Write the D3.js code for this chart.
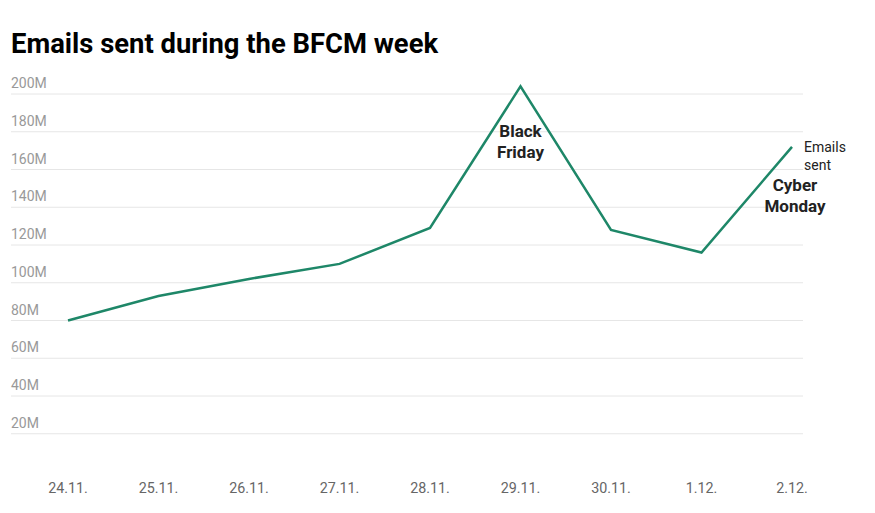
<!DOCTYPE html>
<html>
<head>
<meta charset="utf-8">
<script src="https://cdn.jsdelivr.net/npm/d3@7"></script>
<style>
  body { margin: 0; background: #fff; font-family: Roboto, sans-serif; }
</style>
</head>
<body>
<div id="chart-container"></div>
<script>
// Data
const days = ["24.11.", "25.11.", "26.11.", "27.11.", "28.11.", "29.11.", "30.11.", "1.12.", "2.12."];
const emailsSent = [80, 93, 102, 110, 129, 204, 128, 116, 172]; // millions
const yTicks = [20, 40, 60, 80, 100, 120, 140, 160, 180, 200];

const width = 875;
const height = 513;

const x = d3.scalePoint()
    .domain(days)
    .range([68, 792]);

const y = d3.scaleLinear()
    .domain([0, 200])
    .range([471.5, 94]);

const svg = d3.create("svg")
    .attr("width", width)
    .attr("height", height)
    .style("font-family", "Roboto, sans-serif");

// Title
svg.append("text")
    .attr("x", 11)
    .attr("y", 53)
    .attr("font-size", 27.4)
    .attr("font-weight", 700)
    .attr("fill", "#000")
    .text("Emails sent during the BFCM week");

// Gridlines and y labels
const grid = svg.append("g");
grid.selectAll("line")
  .data(yTicks)
  .join("line")
    .attr("x1", 11)
    .attr("x2", 803)
    .attr("y1", d => y(d))
    .attr("y2", d => y(d))
    .attr("stroke", "#e6e6e6")
    .attr("stroke-width", 1);
grid.selectAll("text")
  .data(yTicks)
  .join("text")
    .attr("x", 11)
    .attr("y", d => y(d) - 6)
    .attr("font-size", 14)
    .attr("fill", "#999")
    .text(d => d + "M");

// X labels
svg.append("g")
  .selectAll("text")
  .data(days)
  .join("text")
    .attr("x", d => x(d))
    .attr("y", 493)
    .attr("text-anchor", "middle")
    .attr("font-size", 14.3)
    .attr("fill", "#666")
    .text(d => d);

// Line
const line = d3.line()
    .x((d, i) => x(days[i]))
    .y(d => y(d));

svg.append("path")
    .datum(emailsSent)
    .attr("d", line)
    .attr("fill", "none")
    .attr("stroke", "#1e8768")
    .attr("stroke-width", 2.5)
    .attr("stroke-linejoin", "miter");

// Series label
const last = days.length - 1;
svg.append("text")
    .attr("x", x(days[last]) + 12)
    .attr("y", 152)
    .attr("font-size", 14)
    .attr("fill", "#222")
  .selectAll("tspan")
  .data(["Emails", "sent"])
  .join("tspan")
    .attr("x", x(days[last]) + 12)
    .attr("dy", (d, i) => i ? 17.5 : 0)
    .text(d => d);

// Annotations
const annotations = [
  { day: "29.11.", lines: ["Black", "Friday"], y: 137 },
  { day: "2.12.", lines: ["Cyber", "Monday"], y: 191 }
];
annotations.forEach(a => {
  svg.append("text")
      .attr("y", a.y)
      .attr("font-size", 17)
      .attr("font-weight", 700)
      .attr("fill", "#222")
      .attr("text-anchor", "middle")
    .selectAll("tspan")
    .data(a.lines)
    .join("tspan")
      .attr("x", x(a.day) + (a.day === "2.12." ? 3 : 0))
      .attr("dy", (d, i) => i ? 20.5 : 0)
      .text(d => d);
});

d3.select("#chart-container").append(() => svg.node());
</script>
</body>
</html>
